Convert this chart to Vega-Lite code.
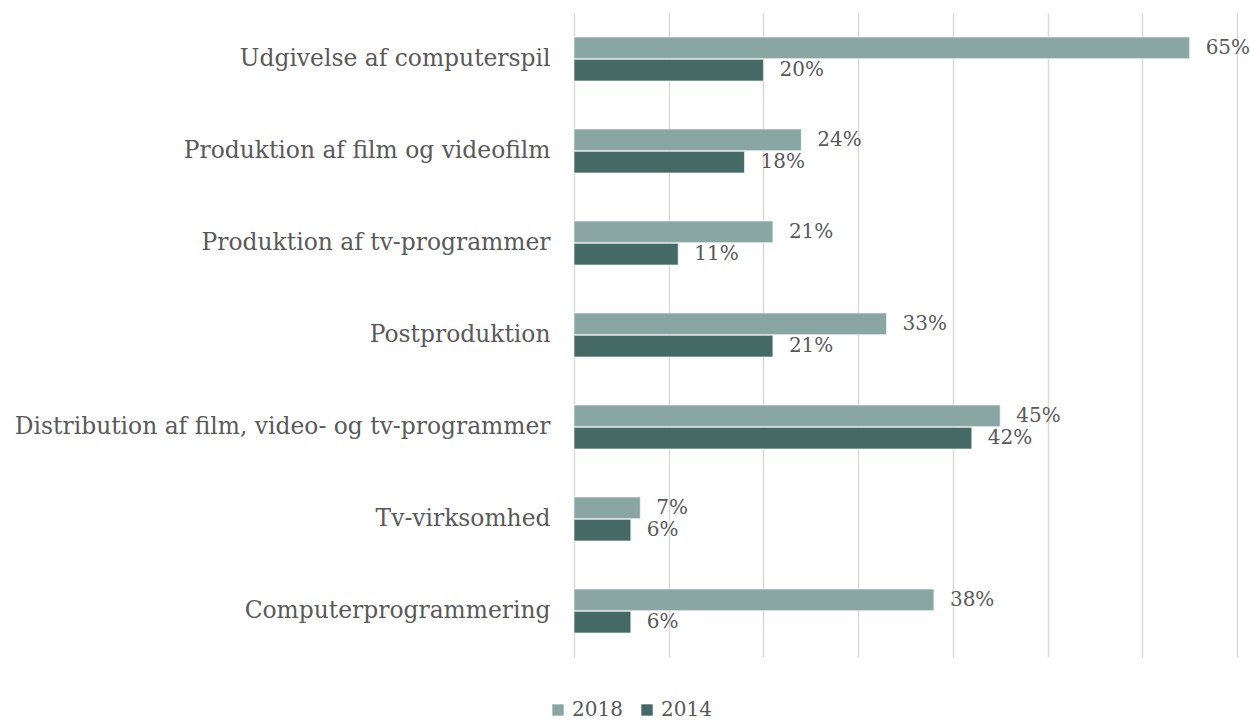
{
  "$schema": "https://vega.github.io/schema/vega-lite/v6.json",
  "width": 663,
  "height": 644,
  "autosize": {"type": "none"},
  "padding": {"left": 574, "top": 13, "right": 13, "bottom": 63},
  "background": "white",
  "config": {
    "view": {"stroke": null},
    "font": "DejaVu Serif"
  },
  "data": {
    "values": [
      {"kategori": "Udgivelse af computerspil", "aar": "2018", "andel": 0.65},
      {"kategori": "Udgivelse af computerspil", "aar": "2014", "andel": 0.20},
      {"kategori": "Produktion af film og videofilm", "aar": "2018", "andel": 0.24},
      {"kategori": "Produktion af film og videofilm", "aar": "2014", "andel": 0.18},
      {"kategori": "Produktion af tv-programmer", "aar": "2018", "andel": 0.21},
      {"kategori": "Produktion af tv-programmer", "aar": "2014", "andel": 0.11},
      {"kategori": "Postproduktion", "aar": "2018", "andel": 0.33},
      {"kategori": "Postproduktion", "aar": "2014", "andel": 0.21},
      {"kategori": "Distribution af film, video- og tv-programmer", "aar": "2018", "andel": 0.45},
      {"kategori": "Distribution af film, video- og tv-programmer", "aar": "2014", "andel": 0.42},
      {"kategori": "Tv-virksomhed", "aar": "2018", "andel": 0.07},
      {"kategori": "Tv-virksomhed", "aar": "2014", "andel": 0.06},
      {"kategori": "Computerprogrammering", "aar": "2018", "andel": 0.38},
      {"kategori": "Computerprogrammering", "aar": "2014", "andel": 0.06}
    ]
  },
  "encoding": {
    "y": {
      "field": "kategori",
      "type": "nominal",
      "sort": null,
      "scale": {"paddingInner": 0.522, "paddingOuter": 0.261},
      "axis": {
        "title": null,
        "ticks": false,
        "domain": false,
        "labelFontSize": 23.4,
        "labelColor": "#595959",
        "labelPadding": 24,
        "labelLimit": 700
      }
    },
    "yOffset": {
      "field": "aar",
      "type": "nominal",
      "sort": ["2018", "2014"],
      "scale": {"paddingInner": 0.03}
    },
    "x": {
      "field": "andel",
      "type": "quantitative",
      "scale": {"domain": [0, 0.7], "nice": false},
      "axis": {
        "title": null,
        "labels": false,
        "ticks": false,
        "domain": false,
        "values": [0, 0.1, 0.2, 0.3, 0.4, 0.5, 0.6, 0.7],
        "gridColor": "#d9d9d9",
        "gridWidth": 1.5
      }
    }
  },
  "layer": [
    {
      "mark": {"type": "bar", "stroke": "#ffffff", "strokeWidth": 0.6},
      "encoding": {
        "color": {
          "field": "aar",
          "type": "nominal",
          "sort": ["2018", "2014"],
          "scale": {"domain": ["2018", "2014"], "range": ["#8aa6a3", "#456a66"]},
          "legend": {
            "title": null,
            "orient": "none",
            "direction": "horizontal",
            "legendX": -26,
            "legendY": 687,
            "symbolType": "square",
            "symbolSize": 130,
            "symbolStrokeWidth": 0,
            "labelFontSize": 20,
            "labelColor": "#595959",
            "labelOffset": 4,
            "columnPadding": 14
          }
        }
      }
    },
    {
      "mark": {"type": "text", "align": "left", "dx": 16, "baseline": "middle", "fontSize": 20, "color": "#595959"},
      "encoding": {
        "text": {"field": "andel", "type": "quantitative", "format": ".0%"}
      }
    }
  ]
}
